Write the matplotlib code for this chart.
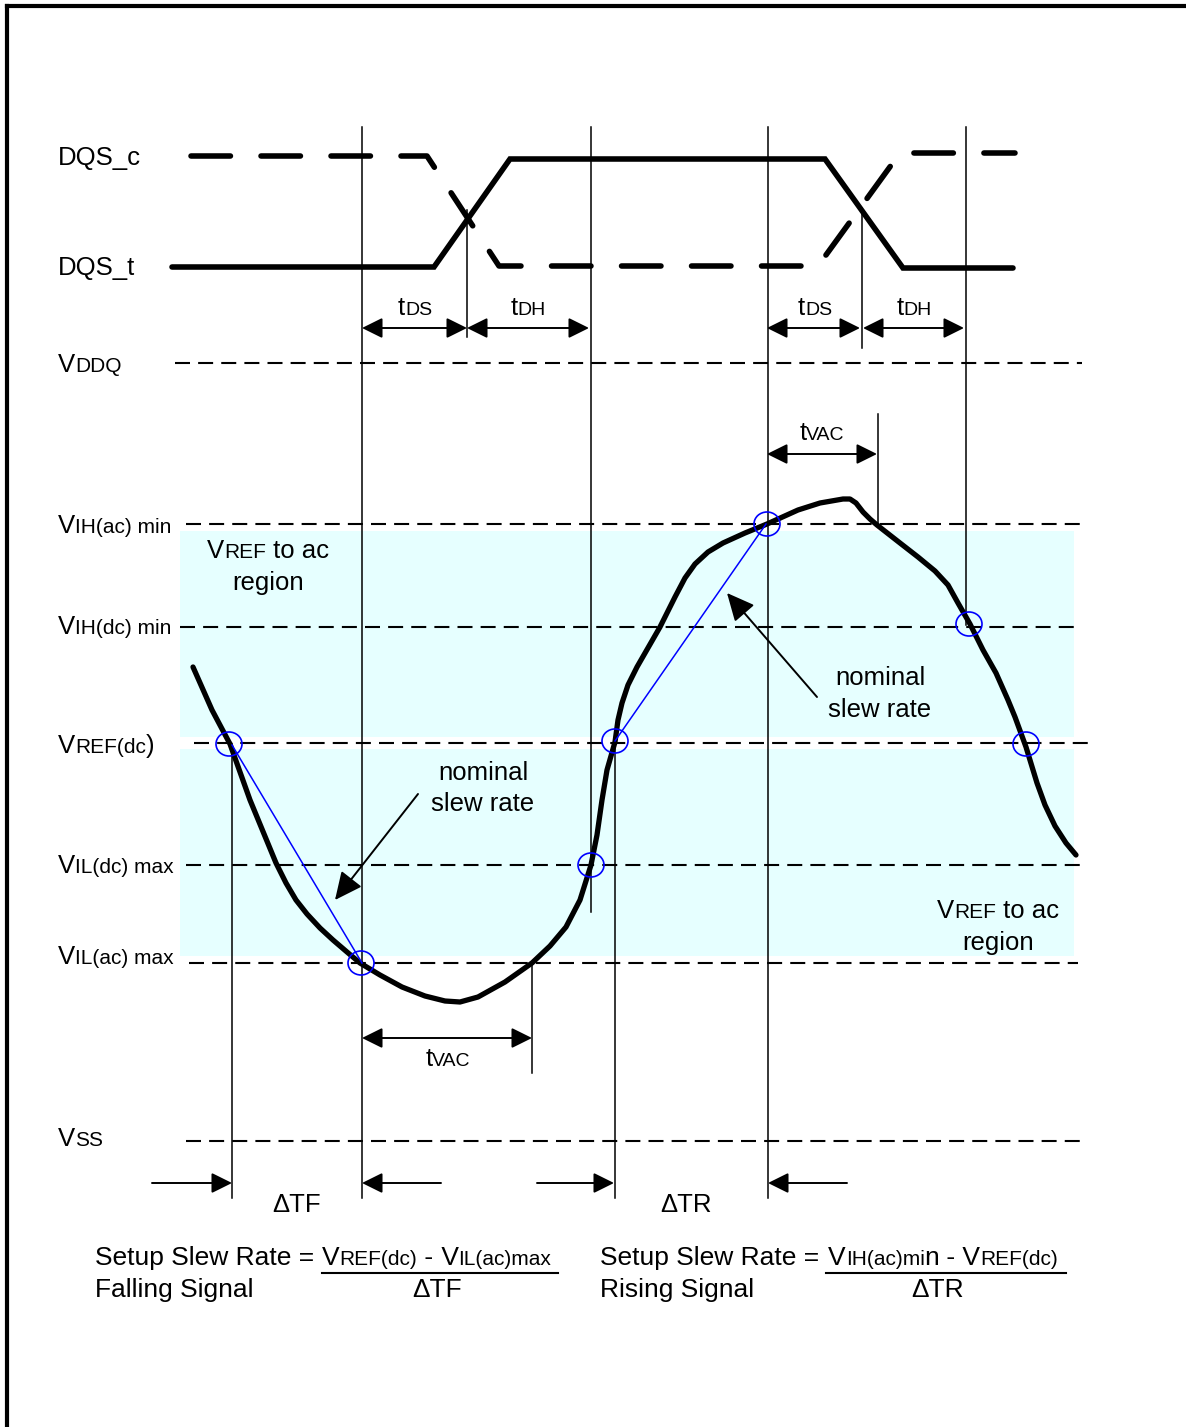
import matplotlib
matplotlib.use("Agg")
import matplotlib.pyplot as plt
from matplotlib.patches import Rectangle, Ellipse, FancyArrowPatch

W, H = 1186, 1427
FONT = "Liberation Sans"
BIG, SMALL, TINY = 18.5, 15, 14

# strobe signals (pixel coords of the drawing)
dqs_t_x = [172, 434, 510, 825, 903, 1013]
dqs_t_y = [267, 267, 159, 159, 268, 268]
dqs_c_x = [191, 427, 499, 818, 900, 1015]
dqs_c_y = [156, 156, 266, 266, 153, 153]

# voltage levels
level_y = [363, 524, 627, 743, 865, 963, 1141]
level_x0 = [175, 186, 180, 194, 186, 189, 186]
level_x1 = [1082, 1086, 1078, 1093, 1086, 1078, 1086]
level_base = [372, 533, 634, 753, 873, 964, 1146]
level_labels = [
    [("V", BIG), ("DDQ", SMALL)],
    [("V", BIG), ("IH(ac) min", SMALL)],
    [("V", BIG), ("IH(dc) min", SMALL)],
    [("V", BIG), ("REF(dc", SMALL), (")", BIG)],
    [("V", BIG), ("IL(dc) max", SMALL)],
    [("V", BIG), ("IL(ac) max", SMALL)],
    [("V", BIG), ("SS", SMALL)],
]

# thin vertical timing lines
vline_x = [232, 362, 467, 591, 615, 768, 862, 878, 966, 532]
vline_y0 = [744, 127, 210, 127, 744, 127, 208, 414, 127, 963]
vline_y1 = [1198, 1198, 337, 912, 1198, 1198, 348, 523, 625, 1073]

# data signal
curve_x = [193, 212, 230, 250, 276, 286, 296, 307, 320, 333, 347, 360, 380, 402,
           425, 445, 460, 478, 505, 532, 550, 566, 580, 591, 597, 602, 607, 615,
           618, 622, 628, 637, 660, 675, 685, 695, 708, 723, 745, 767, 798, 820,
           843, 850, 856, 863, 870, 877, 900, 918, 935, 948, 958, 970, 983, 996,
           1008, 1015, 1026, 1037, 1045, 1055, 1066, 1076]
curve_y = [667, 710, 744, 800, 863, 883, 900, 914, 928, 940, 952, 963, 975, 987,
           996, 1001, 1002, 997, 982, 963, 946, 927, 900, 865, 835, 800, 770, 742,
           720, 703, 685, 667, 627, 597, 578, 564, 552, 543, 533, 524, 510, 503,
           499, 499, 503, 512, 519, 525, 543, 557, 571, 585, 603, 624, 650, 673,
           700, 717, 747, 783, 805, 826, 843, 855]

# crossing markers and nominal slew lines
circle_x = [229, 361, 591, 615, 767, 969, 1026]
circle_y = [744, 963, 865, 741, 524, 624, 744]
slew_x = [[232, 362], [615, 766]]
slew_y = [[745, 963], [741, 524]]

# dimension arrows
dim_x0 = [362, 467, 767, 863, 767, 362]
dim_x1 = [467, 589, 860, 964, 877, 532]
dim_y = [328, 328, 328, 328, 454, 1038]
dim_lab_x = [415, 528, 815, 914, 822, 448]
dim_lab_y = [315, 315, 315, 315, 440, 1066]
dim_labels = [[("t", BIG), ("DS", TINY)], [("t", BIG), ("DH", TINY)],
              [("t", BIG), ("DS", TINY)], [("t", BIG), ("DH", TINY)],
              [("t", BIG), ("VAC", TINY)], [("t", BIG), ("VAC", TINY)]]

# delta-T pointer arrows
ptr_x0 = [152, 441, 537, 847]
ptr_x1 = [232, 362, 614, 768]
ptr_y = 1183

fig = plt.figure(figsize=(W / 100, H / 100), dpi=100)
ax = fig.add_axes([0, 0, 1, 1])
ax.set_xlim(0, W)
ax.set_ylim(H, 0)
ax.axis("off")
plt.rcParams["font.family"] = FONT
R = fig.canvas.get_renderer()


def rich_text(x, y, parts, ha="left"):
    items = []
    cx = x
    for s, size in parts:
        t = ax.text(cx, y, s, fontsize=size, va="baseline", ha="left",
                    family=FONT, zorder=6)
        cx += t.get_window_extent(renderer=R).width
        items.append(t)
    if ha == "center":
        shift = (cx - x) / 2
        for t in items:
            t.set_x(t.get_position()[0] - shift)
    return cx - x


def arrow(p0, p1, style, hl, hw, lw=1.4):
    a = FancyArrowPatch(p0, p1, arrowstyle=f"{style},head_length={hl},head_width={hw}",
                        mutation_scale=10, lw=lw, color="black",
                        shrinkA=0, shrinkB=0, zorder=5)
    ax.add_patch(a)


# border (top and left)
ax.plot([7, 7], [H, 6], color="black", lw=3, solid_capstyle="projecting")
ax.plot([7, W], [6, 6], color="black", lw=3, solid_capstyle="projecting")

# VREF-to-ac shaded regions
ax.add_patch(Rectangle((180, 531), 894, 206, color="#E6FFFF", lw=0, zorder=0))
ax.add_patch(Rectangle((180, 749), 894, 207, color="#E6FFFF", lw=0, zorder=0))

# level lines + labels
for y, x0, x1, b, lab in zip(level_y, level_x0, level_x1, level_base, level_labels):
    ax.plot([x0, x1], [y, y], color="black", lw=1.5, ls=(0, (7.2, 3.9)), zorder=2)
    rich_text(58, b, lab)

# vertical lines
for x, y0, y1 in zip(vline_x, vline_y0, vline_y1):
    ax.plot([x, x], [y0, y1], color="black", lw=1.1, zorder=3)

# DQS strobes
ax.plot(dqs_t_x, dqs_t_y, color="black", lw=4, solid_capstyle="round",
        solid_joinstyle="miter", zorder=4)
ax.plot(dqs_c_x, dqs_c_y, color="black", lw=4, ls=(0, (7.1, 5.5)),
        dash_capstyle="round", zorder=4)
rich_text(58, 165, [("DQS_c", BIG)])
rich_text(58, 275, [("DQS_t", BIG)])

# data signal
ax.plot(curve_x, curve_y, color="black", lw=3.8, solid_capstyle="round",
        solid_joinstyle="round", zorder=4)
for sx, sy in zip(slew_x, slew_y):
    ax.plot(sx, sy, color="#0000FF", lw=1.1, zorder=5)
for cx, cy in zip(circle_x, circle_y):
    ax.add_patch(Ellipse((cx, cy), 26, 24, fill=False, ec="#0000FF", lw=1.2, zorder=6))

# dimension arrows
for x0, x1, y, lx, ly, lab in zip(dim_x0, dim_x1, dim_y, dim_lab_x, dim_lab_y, dim_labels):
    arrow((x0, y), (x1, y), "<|-|>", 1.25, 0.62)
    rich_text(lx, ly, lab, ha="center")

# nominal slew rate pointers
arrow((817, 697), (727, 593), "-|>", 1.7, 0.8)
arrow((418, 794), (335, 900), "-|>", 1.7, 0.8)
rich_text(880, 685, [("nominal", BIG)], ha="center")
rich_text(880, 717, [("slew rate", BIG)], ha="center")
rich_text(483, 780, [("nominal", BIG)], ha="center")
rich_text(483, 811, [("slew rate", BIG)], ha="center")

# region captions
rich_text(268, 558, [("V", BIG), ("REF", SMALL), (" to ac", BIG)], ha="center")
rich_text(268, 590, [("region", BIG)], ha="center")
rich_text(998, 918, [("V", BIG), ("REF", SMALL), (" to ac", BIG)], ha="center")
rich_text(998, 950, [("region", BIG)], ha="center")

# delta-T pointers
for x0, x1 in zip(ptr_x0, ptr_x1):
    arrow((x0, ptr_y), (x1, ptr_y), "-|>", 1.25, 0.62)
rich_text(297, 1212, [("\u0394TF", BIG)], ha="center")
rich_text(686, 1212, [("\u0394TR", BIG)], ha="center")

# slew rate formulas
FB = 19
rich_text(95, 1265, [("Setup Slew Rate =", FB)])
rich_text(95, 1297, [("Falling Signal", FB)])
rich_text(322, 1265, [("V", FB), ("REF(dc)", SMALL), (" -", FB), (" V", FB),
                      ("IL(ac)max", SMALL)])
ax.plot([322, 558], [1273, 1273], color="black", lw=1.5)
rich_text(437, 1297, [("\u0394TF", FB)], ha="center")

rich_text(600, 1265, [("Setup Slew Rate =", FB)])
rich_text(600, 1297, [("Rising Signal", FB)])
rich_text(828, 1265, [("V", FB), ("IH(ac)mi", SMALL), ("n", FB), (" -", FB),
                      (" V", FB), ("REF(dc)", SMALL)])
ax.plot([826, 1066], [1273, 1273], color="black", lw=1.5)
rich_text(938, 1297, [("\u0394TR", FB)], ha="center")

fig.savefig("out.png", dpi=100)
